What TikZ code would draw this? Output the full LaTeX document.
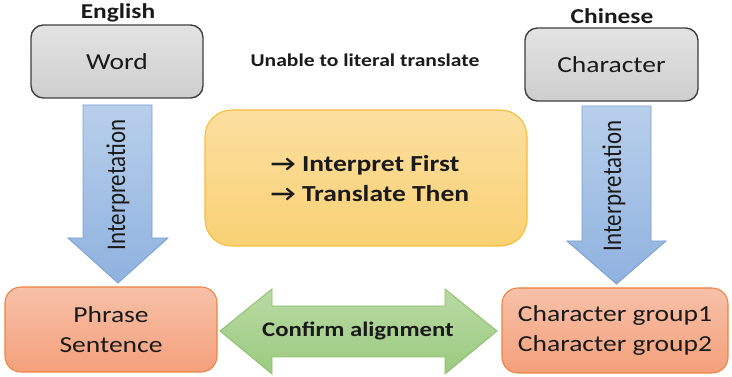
\documentclass[tikz,border=0pt]{standalone}
\usepackage{fontspec}
\usetikzlibrary{fit}
\setmainfont{Carlito}[FakeStretch=1.2]
\newfontfamily\plainfont{Carlito}
\newfontfamily\arrowfont{DejaVu Sans}
% open-chevron arrow from the text font, DejaVu as fallback
\newcommand\rarrowglyph{\iffontchar\font"2192 →\else{\arrowfont\fontsize{13}{16}\selectfont →}\fi}
\newcommand\tallrot[1]{\scalebox{1}[1.18]{#1}}
\definecolor{grayT}{HTML}{E3E3E3}
\definecolor{grayB}{HTML}{CECECE}
\definecolor{grayL}{HTML}{3F3F3F}
\definecolor{blueT}{HTML}{B8CFEB}
\definecolor{blueB}{HTML}{8FB2DF}
\definecolor{blueL}{HTML}{7AA0D0}
\definecolor{goldT}{HTML}{FCDFA0}
\definecolor{goldB}{HTML}{F9D174}
\definecolor{goldL}{HTML}{F5BC3C}
\definecolor{salT}{HTML}{F7C1A8}
\definecolor{salB}{HTML}{F4A07B}
\definecolor{salL}{HTML}{EE8240}
\definecolor{grnT}{HTML}{B9DAA3}
\definecolor{grnB}{HTML}{9BCA80}
\definecolor{grnL}{HTML}{8CC06C}
\definecolor{ink}{HTML}{1A1A1A}
\tikzset{
  graybox/.style={draw=grayL, line width=0.8pt, rounded corners=7pt,
    top color=grayT, bottom color=grayB, inner sep=0pt},
  goldbox/.style={draw=goldL, line width=0.6pt, rounded corners=15pt,
    top color=goldT, bottom color=goldB, inner sep=0pt},
  salbox/.style={draw=salL, line width=0.6pt, rounded corners=9pt,
    top color=salT, bottom color=salB, inner sep=0pt},
  bluearrow/.style={draw=blueL, line width=0.5pt, top color=blueT, bottom color=blueB},
  grnarrow/.style={draw=grnL, line width=0.5pt, top color=grnT, bottom color=grnB},
  body/.style={font=\fontsize{13}{16.5}\selectfont, text=ink, align=center},
  head/.style={font=\bfseries\fontsize{12}{14}\selectfont, text=ink},
  rotlabel/.style={rotate=90, font=\plainfont\fontsize{13}{16}\selectfont, text=ink},
}
\begin{document}
\begin{tikzpicture}[x=0.5669pt, y=-0.5669pt]
\useasboundingbox (0,0) rectangle (732,377);

% top boxes
\node[graybox, fit={(31,25) (203,98)}] (word) {};
\node[body] at (word.center) {Word};
\node[head] (english) at (118,13) {English};

\node[graybox, fit={(525,28) (698,101)}] (char) {};
\node[body] at (char.center) {Character};
\node[head] (chinese) at (612,16) {Chinese};

\node[font=\bfseries\fontsize{10.2}{12}\selectfont, text=ink] (note) at (365,60) {Unable to literal translate};

% interpretation arrows
\path[bluearrow] (83,105) -- (152,105) -- (152,238) -- (168,238) -- (118,283)
  -- (68,238) -- (83,238) -- cycle;
\node[rotlabel] (interL) at (118,185) {\tallrot{Interpretation}};

\path[bluearrow] (582,106) -- (651,106) -- (651,241) -- (666,241) -- (616.5,284)
  -- (567,241) -- (582,241) -- cycle;
\node[rotlabel] (interR) at (614,186) {\tallrot{Interpretation}};

% centre box
\node[goldbox, fit={(205,110) (527,246)}] (rule) {};
\node[font=\bfseries\fontsize{13}{16}\selectfont, text=ink, align=left] at (370,179)
  {\rarrowglyph\ Interpret First\\[1pt]
   \rarrowglyph\ Translate Then};

% bottom boxes
\node[salbox, fit={(5,287) (217,372)}] (phrase) {};
\node[body, font=\fontsize{13}{17}\selectfont] at (phrase.center) {Phrase\\Sentence};

\node[salbox, fit={(502,288) (728,373)}] (group) {};
\node[body, font=\fontsize{13}{17}\selectfont] at (group.center) {Character group1\\Character group2};

% alignment double arrow
\path[grnarrow] (220,331) -- (272,289) -- (272,306) -- (445,306) -- (445,289)
  -- (497,331) -- (445,374) -- (445,357) -- (272,357) -- (272,374) -- cycle;
\node[font=\bfseries\fontsize{11.7}{14}\selectfont, text=ink] (align) at (358,331) {Confirm alignment};
\end{tikzpicture}
\end{document}
